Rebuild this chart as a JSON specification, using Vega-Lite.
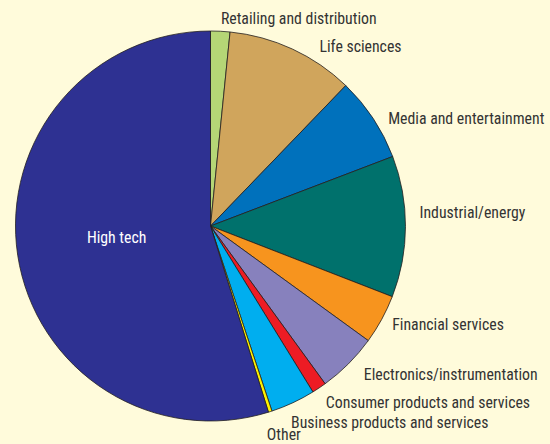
{
  "$schema": "https://vega.github.io/schema/vega-lite/v6.json",
  "width": 421,
  "height": 452,
  "autosize": {"type": "none"},
  "padding": {"left": 0, "top": 0, "right": 129, "bottom": 0},
  "background": "#fffbdb",
  "view": {"stroke": null},
  "config": {"text": {"font": "Roboto Condensed, Open Sans Condensed, DejaVu Sans Condensed, Liberation Sans, sans-serif", "fontSize": 15.8, "fill": "#333333", "baseline": "middle", "align": "left", "radius": 207}},
  "data": {
    "values": [
      {"k": 1, "sector": "Retailing and distribution", "share": 1.6},
      {"k": 2, "sector": "Life sciences", "share": 10.6},
      {"k": 3, "sector": "Media and entertainment", "share": 7.0},
      {"k": 4, "sector": "Industrial/energy", "share": 11.7},
      {"k": 5, "sector": "Financial services", "share": 4.1},
      {"k": 6, "sector": "Electronics/instrumentation", "share": 5.0},
      {"k": 7, "sector": "Consumer products and services", "share": 1.2},
      {"k": 8, "sector": "Business products and services", "share": 3.7},
      {"k": 9, "sector": "Other", "share": 0.3},
      {"k": 10, "sector": "High tech", "share": 54.8}
    ]
  },
  "encoding": {
    "theta": {"field": "share", "type": "quantitative", "stack": true},
    "order": {"field": "k", "type": "quantitative"},
    "text": {"field": "sector", "type": "nominal"}
  },
  "layer": [
    {
      "mark": {"type": "arc", "outerRadius": 195, "stroke": "#231f20", "strokeWidth": 0.8},
      "encoding": {
        "color": {
          "field": "sector",
          "type": "nominal",
          "legend": null,
          "scale": {
            "domain": ["Retailing and distribution", "Life sciences", "Media and entertainment", "Industrial/energy", "Financial services", "Electronics/instrumentation", "Consumer products and services", "Business products and services", "Other", "High tech"],
            "range": ["#b5d676", "#d0a55c", "#0071bc", "#00716c", "#f7941e", "#8781bd", "#ed1c24", "#00aeef", "#fff200", "#2e3192"]
          }
        }
      }
    },
    {
      "mark": {"type": "text"},
      "encoding": {"opacity": {"condition": {"test": "indexof(['Retailing and distribution','Financial services'], datum.sector) >= 0", "value": 1}, "value": 0}}
    },
    {
      "mark": {"type": "text", "dx": 22, "dy": 9},
      "encoding": {"opacity": {"condition": {"test": "datum.sector === 'Life sciences'", "value": 1}, "value": 0}}
    },
    {
      "mark": {"type": "text", "dx": 5, "dy": 7},
      "encoding": {"opacity": {"condition": {"test": "datum.sector === 'Media and entertainment'", "value": 1}, "value": 0}}
    },
    {
      "mark": {"type": "text", "dx": 2, "dy": -14},
      "encoding": {"opacity": {"condition": {"test": "datum.sector === 'Industrial/energy'", "value": 1}, "value": 0}}
    },
    {
      "mark": {"type": "text", "dx": 7, "dy": 3},
      "encoding": {"opacity": {"condition": {"test": "datum.sector === 'Electronics/instrumentation'", "value": 1}, "value": 0}}
    },
    {
      "mark": {"type": "text", "dx": 0, "dy": 5},
      "encoding": {"opacity": {"condition": {"test": "datum.sector === 'Consumer products and services'", "value": 1}, "value": 0}}
    },
    {
      "mark": {"type": "text", "dx": -7, "dy": 9},
      "encoding": {"opacity": {"condition": {"test": "datum.sector === 'Business products and services'", "value": 1}, "value": 0}}
    },
    {
      "mark": {"type": "text", "dx": -7, "dy": 12},
      "encoding": {"opacity": {"condition": {"test": "datum.sector === 'Other'", "value": 1}, "value": 0}}
    },
    {
      "mark": {"type": "text", "radius": 98, "align": "center", "fill": "#ffffff", "dx": 3, "dy": -3},
      "encoding": {"opacity": {"condition": {"test": "datum.sector === 'High tech'", "value": 1}, "value": 0}}
    }
  ]
}
